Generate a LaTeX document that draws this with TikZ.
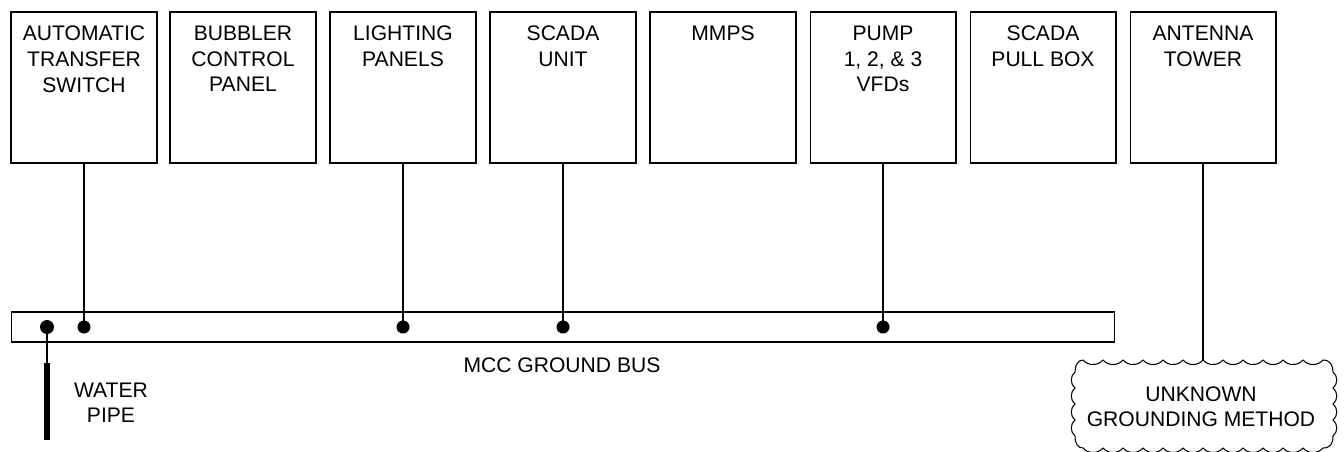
\documentclass[tikz,border=0pt]{standalone}
\usepackage{fontspec}
\setmainfont{Liberation Sans}
\usetikzlibrary{positioning}
\begin{document}
\begin{tikzpicture}[
    x=0.02cm, y=-0.02cm,
    line width=0.6pt,
    font=\fontsize{12}{14.6}\selectfont,
    box/.style={draw, minimum width=2.92cm, minimum height=3.02cm, inner sep=0pt},
    boxtext/.style={align=center, inner sep=0pt, anchor=north},
    dot/.style={circle, fill, inner sep=0pt, minimum size=0.26cm},
  ]
  \useasboundingbox (0,0) rectangle (1344,451);
  % top row of equipment
  \node[box] (ats)      at (84,87.5)   {};
  \node[box] (bubbler)  at (243,87.5)  {};
  \node[box] (lighting) at (403,87.5)  {};
  \node[box] (scada)    at (563,87.5)  {};
  \node[box] (mmps)     at (723,87.5)  {};
  \node[box] (pumps)    at (883,87.5)  {};
  \node[box] (pullbox)  at (1043,87.5) {};
  \node[box] (tower)    at (1203,87.5) {};
  \node[boxtext, below=0.28cm of ats.north]      {AUTOMATIC\\TRANSFER\\SWITCH};
  \node[boxtext, below=0.28cm of bubbler.north]  {BUBBLER\\CONTROL\\PANEL};
  \node[boxtext, below=0.28cm of lighting.north] {LIGHTING\\PANELS};
  \node[boxtext, below=0.28cm of scada.north]    {SCADA\\UNIT};
  \node[boxtext, below=0.28cm of mmps.north]     {MMPS};
  \node[boxtext, below=0.28cm of pumps.north]    {PUMP\\1, 2, \& 3\\VFDs};
  \node[boxtext, below=0.28cm of pullbox.north]  {SCADA\\PULL BOX};
  \node[boxtext, below=0.28cm of tower.north]    {ANTENNA\\TOWER};
  % ground bus
  \node[draw, minimum width=22.08cm, minimum height=0.6cm, inner sep=0pt] (bus) at (563,327) {};
  \node[boxtext] (bus-label) at (562,357) {MCC GROUND BUS};
  \node[dot] (ats-dot)      at (84,327)  {};
  \node[dot] (lighting-dot) at (403,327) {};
  \node[dot] (scada-dot)    at (563,327) {};
  \node[dot] (pumps-dot)    at (883,327) {};
  \draw (ats.south)      -- (ats-dot.center);
  \draw (lighting.south) -- (lighting-dot.center);
  \draw (scada.south)    -- (scada-dot.center);
  \draw (pumps.south)    -- (pumps-dot.center);
  % water pipe
  \node[dot, minimum size=0.28cm] (pipe-dot) at (47,327) {};
  \coordinate (pipe-top) at (47,363);
  \coordinate (pipe-end) at (47,440);
  \draw (pipe-dot.center) -- (pipe-top);
  \draw[line width=3.4pt] (pipe-top) -- (pipe-end);
  \node[boxtext] (pipe-label) at (111,382) {WATER\\PIPE};
  % unknown grounding method (cloud)
  \draw (1083,360)
    \foreach \i in {1,...,12} { .. controls +(5,6) and +(-5,6) .. ++(20,0) }
    .. controls (1330,360) and (1333,365) .. (1333,372)
    \foreach \i in {1,...,4} { .. controls +(5,4) and +(5,-4) .. ++(0,16) }
    .. controls (1333,444) and (1330,448) .. (1323,448)
    \foreach \i in {1,...,12} { .. controls +(-5,6) and +(5,6) .. ++(-20,0) }
    .. controls (1078,448) and (1075,444) .. (1075,436)
    \foreach \i in {1,...,4} { .. controls +(-5,-4) and +(-5,4) .. ++(0,-16) }
    .. controls (1075,365) and (1078,360) .. (1083,360);
  \coordinate (cloud-top) at (1203,360);
  \node[boxtext] (unknown) at (1201,386) {UNKNOWN\\GROUNDING METHOD};
  \draw (tower.south) -- (cloud-top);
\end{tikzpicture}
\end{document}
